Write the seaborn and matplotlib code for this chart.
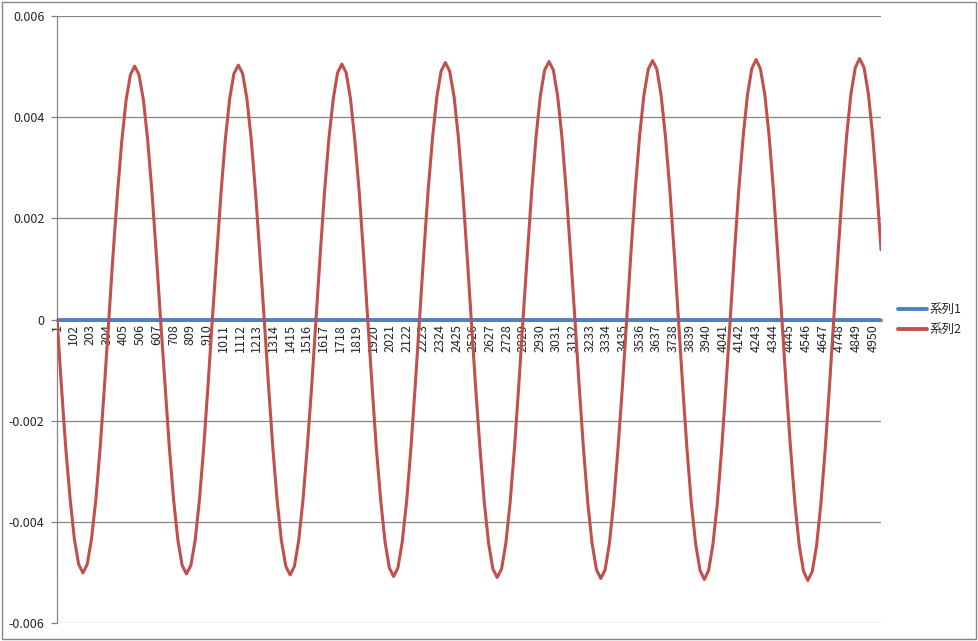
import matplotlib
matplotlib.use("Agg")
import matplotlib.pyplot as plt
import matplotlib.patches as mpatches
import seaborn as sns
import pandas as pd

# ---- data ----
series_names = ["系列1", "系列2"]

# 系列1 is flat at zero over all categories
x1 = [1, 5000]
y1 = [0.0, 0.0]

# 系列2 sampled along the curve (category index, value)
x2 = [
    1, 27, 53, 80, 106, 132, 158, 184, 210, 237, 263, 289, 315, 341, 368, 394, 420, 446, 472, 498, 525, 551, 577, 603,
    629, 656, 682, 708, 734, 760, 786, 813, 839, 865, 891, 917, 943, 970, 996, 1022, 1048, 1074, 1101, 1127, 1153, 1179, 1205, 1231,
    1258, 1284, 1310, 1336, 1362, 1389, 1415, 1441, 1467, 1493, 1519, 1546, 1572, 1598, 1624, 1650, 1677, 1703, 1729, 1755, 1781, 1807, 1834, 1860,
    1886, 1912, 1938, 1965, 1991, 2017, 2043, 2069, 2095, 2122, 2148, 2174, 2200, 2226, 2252, 2279, 2305, 2331, 2357, 2383, 2410, 2436, 2462, 2488,
    2514, 2540, 2567, 2593, 2619, 2645, 2671, 2698, 2724, 2750, 2776, 2802, 2828, 2855, 2881, 2907, 2933, 2959, 2986, 3012, 3038, 3064, 3090, 3116,
    3143, 3169, 3195, 3221, 3247, 3274, 3300, 3326, 3352, 3378, 3404, 3431, 3457, 3483, 3509, 3535, 3561, 3588, 3614, 3640, 3666, 3692, 3719, 3745,
    3771, 3797, 3823, 3849, 3876, 3902, 3928, 3954, 3980, 4007, 4033, 4059, 4085, 4111, 4137, 4164, 4190, 4216, 4242, 4268, 4295, 4321, 4347, 4373,
    4399, 4425, 4452, 4478, 4504, 4530, 4556, 4583, 4609, 4635, 4661, 4687, 4713, 4740, 4766, 4792, 4818, 4844, 4870, 4897, 4923, 4949, 4975, 5000,
]
y2 = [
    0, -0.0013, -0.00251, -0.00354, -0.00434, -0.00484, -0.00501, -0.00484, -0.00434, -0.00354, -0.00251, -0.0013,
    0, 0.0013, 0.00251, 0.00354, 0.00434, 0.00484, 0.00501, 0.00484, 0.00434, 0.00354, 0.00251, 0.0013,
    0, -0.0013, -0.00252, -0.00356, -0.00436, -0.00486, -0.00503, -0.00486, -0.00436, -0.00356, -0.00252, -0.0013,
    0, 0.0013, 0.00252, 0.00356, 0.00436, 0.00486, 0.00503, 0.00486, 0.00436, 0.00356, 0.00252, 0.0013,
    0, -0.00131, -0.00253, -0.00357, -0.00437, -0.00488, -0.00505, -0.00488, -0.00437, -0.00357, -0.00253, -0.00131,
    0, 0.00131, 0.00253, 0.00357, 0.00437, 0.00488, 0.00505, 0.00488, 0.00437, 0.00357, 0.00253, 0.00131,
    0, -0.00131, -0.00254, -0.00359, -0.0044, -0.00491, -0.00508, -0.00491, -0.0044, -0.00359, -0.00254, -0.00131,
    0, 0.00131, 0.00254, 0.00359, 0.0044, 0.00491, 0.00508, 0.00491, 0.0044, 0.00359, 0.00254, 0.00131,
    0, -0.00132, -0.00255, -0.00361, -0.00442, -0.00493, -0.0051, -0.00493, -0.00442, -0.00361, -0.00255, -0.00132,
    0, 0.00132, 0.00255, 0.00361, 0.00442, 0.00493, 0.0051, 0.00493, 0.00442, 0.00361, 0.00255, 0.00132,
    0, -0.00133, -0.00256, -0.00362, -0.00443, -0.00495, -0.00512, -0.00495, -0.00443, -0.00362, -0.00256, -0.00133,
    0, 0.00133, 0.00256, 0.00362, 0.00443, 0.00495, 0.00512, 0.00495, 0.00443, 0.00362, 0.00256, 0.00133,
    0, -0.00133, -0.00257, -0.00363, -0.00445, -0.00496, -0.00514, -0.00496, -0.00445, -0.00363, -0.00257, -0.00133,
    0, 0.00133, 0.00257, 0.00363, 0.00445, 0.00496, 0.00514, 0.00496, 0.00445, 0.00363, 0.00257, 0.00133,
    0, -0.00134, -0.00258, -0.00365, -0.00447, -0.00498, -0.00516, -0.00498, -0.00447, -0.00365, -0.00258, -0.00134,
    0, 0.00134, 0.00258, 0.00365, 0.00447, 0.00498, 0.00516, 0.00498, 0.00447, 0.00365, 0.00258, 0.00138,
]

x_tick_vals = list(range(1, 5000, 101))
y_tick_vals = [-0.006, -0.004, -0.002, 0, 0.002, 0.004, 0.006]
y_tick_labels = ["-0.006", "-0.004", "-0.002", "0", "0.002", "0.004", "0.006"]

colors = ["#4F81BD", "#C0504D"]
grey = "#868686"

sns.set_style("white")
plt.rcParams["font.family"] = ["Noto Sans CJK JP", "DejaVu Sans"]

fig = plt.figure(figsize=(9.79, 6.41), dpi=100)
ax = fig.add_axes([0.0582, 0.0281, 0.8418, 0.9469])

# outer chart border
fig.patches.append(mpatches.Rectangle((0.002, 0.003), 0.995, 0.994, transform=fig.transFigure,
                                      fill=False, edgecolor=grey, linewidth=1))

df1 = pd.DataFrame({"x": x1, "y": y1})
df2 = pd.DataFrame({"x": x2, "y": y2})

for yv in y_tick_vals:
    if yv != 0:
        ax.axhline(yv, color=grey, linewidth=0.9, zorder=0)

sns.lineplot(data=df1, x="x", y="y", ax=ax, color=colors[0], linewidth=2.8,
             label=series_names[0], estimator=None, sort=False, zorder=3)
sns.lineplot(data=df2, x="x", y="y", ax=ax, color=colors[1], linewidth=2.2,
             label=series_names[1], estimator=None, sort=False, zorder=4,
             solid_joinstyle="round")

# axis line sits at zero; set before ticks since it resets them
ax.spines["top"].set_visible(False)
ax.spines["right"].set_visible(False)
ax.spines["left"].set_color(grey)
ax.spines["left"].set_linewidth(0.9)
ax.spines["bottom"].set_position(("data", 0))
ax.spines["bottom"].set_color(grey)
ax.spines["bottom"].set_linewidth(2)
ax.spines["bottom"].set_zorder(2)

ax.set_xlim(0.5, 5000.5)
ax.set_ylim(-0.006, 0.006)
ax.set_xlabel("")
ax.set_ylabel("")

ax.set_yticks(y_tick_vals)
ax.set_yticklabels(y_tick_labels, fontsize=9)
ax.set_xticks(x_tick_vals)
ax.set_xticklabels([str(v) for v in x_tick_vals], rotation=90, fontsize=9)

ax.tick_params(axis="y", length=4, color=grey, width=0.9, pad=5, left=True)
ax.tick_params(axis="x", length=0, pad=3)

leg = ax.legend(loc="center left", bbox_to_anchor=(1.015, 0.5), frameon=False,
                fontsize=9, handlelength=2.3, handletextpad=0.2, labelspacing=0.55,
                borderaxespad=0)
for h in leg.get_lines():
    h.set_linewidth(2.8)

fig.savefig("out.png", dpi=100)
